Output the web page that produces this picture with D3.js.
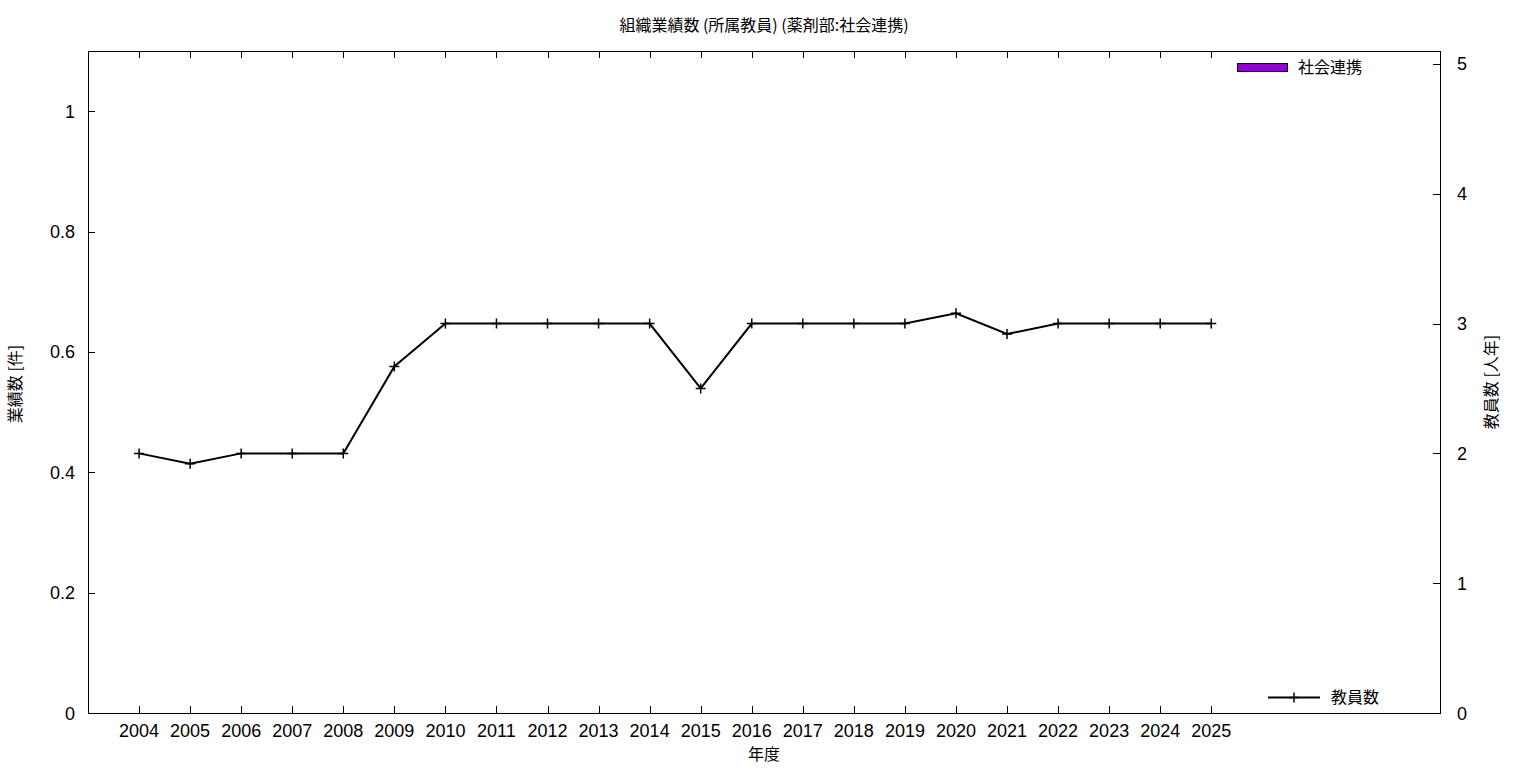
<!DOCTYPE html>
<html><head><meta charset="utf-8">
<script src="https://cdn.jsdelivr.net/npm/d3@7"></script>
<style>body{margin:0;background:#fff;} text{fill:#000;} .cjk{font-family:"Noto Sans CJK JP","Noto Sans",sans-serif;} .num{font-family:"Liberation Sans",Arial,sans-serif;}</style>
</head><body><svg id="c" width="1536" height="768"></svg>
<script>
const years = [2004,2005,2006,2007,2008,2009,2010,2011,2012,2013,2014,2015,2016,2017,2018,2019,2020,2021,2022,2023,2024,2025];
const staff = [2,1.92,2,2,2,2.67,3,3,3,3,3,2.5,3,3,3,3,3.08,2.92,3,3,3,3];
const outputs = years.map(()=>0);
const leftTicks = [0,0.2,0.4,0.6,0.8,1];
const rightTicks = [0,1,2,3,4,5];
const title = "組織業績数 (所属教員) (薬剤部:社会連携)";

const svg = d3.select("#c");
const L=88,R=1440,T=51,B=713;
const x = d3.scaleLinear().domain([2003,2029.48]).range([L,R]);
const yL = d3.scaleLinear().domain([0,1.1]).range([B,T]);
const yR = d3.scaleLinear().domain([0,5.1]).range([B,T]);
const tl=7;

svg.append("rect").attr("x",L+0.5).attr("y",T+0.5).attr("width",R-L).attr("height",B-T).attr("fill","none").attr("stroke","#000").attr("stroke-width",1);

const g = svg.append("g");
years.forEach(yr=>{
  const px=Math.round(x(yr))+0.5;
  g.append("line").attr("x1",px).attr("x2",px).attr("y1",B).attr("y2",B-tl).attr("stroke","#000");
  g.append("line").attr("x1",px).attr("x2",px).attr("y1",T).attr("y2",T+tl).attr("stroke","#000");
  g.append("text").attr("class","num").attr("x",x(yr)).attr("y",B+24).attr("text-anchor","middle").attr("font-size",18).text(yr);
});
leftTicks.forEach(v=>{
  const py=Math.round(yL(v))+0.5;
  g.append("line").attr("x1",L).attr("x2",L+tl).attr("y1",py).attr("y2",py).attr("stroke","#000");
  g.append("text").attr("class","num").attr("x",L-13).attr("y",yL(v)+6.5).attr("text-anchor","end").attr("font-size",18).text(v);
});
rightTicks.forEach(v=>{
  const py=Math.round(yR(v))+0.5;
  g.append("line").attr("x1",R).attr("x2",R-tl).attr("y1",py).attr("y2",py).attr("stroke","#000");
  g.append("text").attr("class","num").attr("x",R+17).attr("y",yR(v)+6.5).attr("text-anchor","start").attr("font-size",18).text(v);
});

// bars (all zero)
svg.append("g").selectAll("rect").data(outputs).join("rect")
  .attr("x",(d,i)=>x(years[i])-20).attr("width",40)
  .attr("y",d=>yL(d)).attr("height",d=>B-yL(d)).attr("fill","#9400d3");

// line
const line = d3.line().x((d,i)=>x(years[i])).y(d=>yR(d));
svg.append("path").datum(staff).attr("d",line).attr("fill","none").attr("stroke","#000").attr("stroke-width",2);
svg.append("g").selectAll("path").data(staff).join("path")
  .attr("d",(d,i)=>{const cx=x(years[i]),cy=yR(d);return `M${cx-5},${cy}H${cx+5}M${cx},${cy-5}V${cy+5}`;})
  .attr("stroke","#000").attr("stroke-width",1.5);

// title & labels
svg.append("text").attr("class","cjk").attr("x",764).attr("y",31).attr("text-anchor","middle").attr("font-size",16).text(title);
svg.append("text").attr("class","cjk").attr("x",764).attr("y",760).attr("text-anchor","middle").attr("font-size",16).text("年度");
svg.append("text").attr("class","cjk").attr("transform","translate(21,384) rotate(-90)").attr("text-anchor","middle").attr("font-size",16).text("業績数 [件]");
svg.append("text").attr("class","cjk").attr("transform","translate(1497,382) rotate(-90)").attr("text-anchor","middle").attr("font-size",16).text("教員数 [人年]");

// legends
svg.append("rect").attr("x",1237.5).attr("y",63.5).attr("width",50).attr("height",8).attr("fill","#9400d3").attr("stroke","#000");
svg.append("text").attr("class","cjk").attr("x",1298).attr("y",73).attr("font-size",16).text("社会連携");
svg.append("line").attr("x1",1268).attr("x2",1320).attr("y1",697.5).attr("y2",697.5).attr("stroke","#000").attr("stroke-width",2);
svg.append("path").attr("d","M1294,692.5V702.5M1289,697.5H1299").attr("stroke","#000").attr("stroke-width",1.5);
svg.append("text").attr("class","cjk").attr("x",1331).attr("y",703).attr("font-size",16).text("教員数");
</script></body></html>
